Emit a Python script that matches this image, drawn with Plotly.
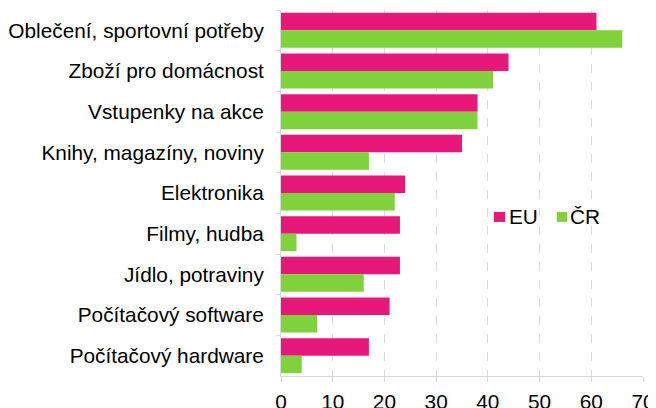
import plotly.graph_objects as go

categories = [
    "Oblečení, sportovní potřeby",
    "Zboží pro domácnost",
    "Vstupenky na akce",
    "Knihy, magazíny, noviny",
    "Elektronika",
    "Filmy, hudba",
    "Jídlo, potraviny",
    "Počítačový software",
    "Počítačový hardware",
]
eu_values = [61, 44, 38, 35, 24, 23, 23, 21, 17]
cr_values = [66, 41, 38, 17, 22, 3, 16, 7, 4]
x_ticks = [0, 10, 20, 30, 40, 50, 60, 70]
series_names = ["EU", "ČR"]

PINK = "#E8177A"
GREEN = "#7FD23C"
FONT = "Liberation Sans, Arial, sans-serif"
FS = 20.8

fig = go.Figure()
fig.add_trace(go.Bar(y=categories, x=eu_values, name=series_names[0], orientation="h",
                     marker=dict(color=PINK, line=dict(width=0))))
fig.add_trace(go.Bar(y=categories, x=cr_values, name=series_names[1], orientation="h",
                     marker=dict(color=GREEN, line=dict(width=0))))

# manual legend (compact spacing as in the reference)
legend_items = [
    (series_names[0], PINK, 0.588, 0.619, 0.627),
    (series_names[1], GREEN, 0.762, 0.790, 0.796),
]
for name, col, sx0, sx1, tx in legend_items:
    fig.add_shape(type="rect", xref="paper", yref="paper", x0=sx0, x1=sx1,
                  y0=0.421, y1=0.448, fillcolor=col, line=dict(width=0))
    fig.add_annotation(xref="paper", yref="paper", x=tx, y=0.437, text=name,
                       showarrow=False, xanchor="left", yanchor="middle",
                       font=dict(family=FONT, size=FS, color="#000000"), borderpad=0)

# page body has an 8px margin, so the figure is 8px smaller and margins shifted
fig.update_layout(
    width=648, height=400,
    margin=dict(l=273, r=13, t=2, b=32, autoexpand=False),
    paper_bgcolor="white", plot_bgcolor="white",
    barmode="group", bargap=0.14, bargroupgap=0,
    font=dict(family=FONT, size=FS, color="#000000"),
    showlegend=False,
)
fig.update_xaxes(
    range=[0, 70], tickvals=x_ticks, ticktext=[str(v) for v in x_ticks],
    showgrid=True, gridcolor="#D9D9D9", griddash="dash", gridwidth=1,
    showline=True, linecolor="#D9D9D9", linewidth=1,
    ticks="outside", ticklen=5, tickcolor="#D9D9D9",
    ticklabelstandoff=2, ticklabeloverflow="allow",
    zeroline=False, automargin=False,
)
fig.update_yaxes(
    autorange="reversed", showgrid=False,
    showline=True, linecolor="#D9D9D9", linewidth=1,
    ticks="outside", ticklen=4, tickcolor="#D9D9D9", tickson="boundaries",
    ticklabelstandoff=12, automargin=False,
)

fig.write_html("out.html")
